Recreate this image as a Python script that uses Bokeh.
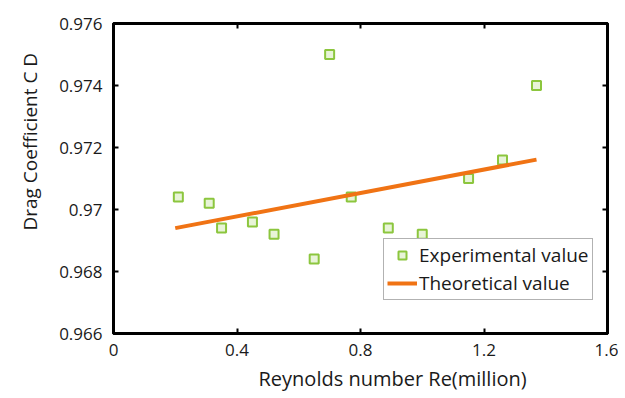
from bokeh.plotting import figure
from bokeh.models import LinearAxis, FixedTicker, Range1d, Legend, LegendItem, Title
from bokeh.embed import file_html
from bokeh.resources import INLINE

# data
re_exp = [0.21, 0.31, 0.35, 0.45, 0.52, 0.65, 0.70, 0.77, 0.89, 1.00, 1.15, 1.26, 1.37]
cd_exp = [0.9704, 0.9702, 0.9694, 0.9696, 0.9692, 0.9684, 0.9750, 0.9704, 0.9694, 0.9692, 0.9710, 0.9716, 0.9740]
re_theory = [0.20, 1.37]
cd_theory = [0.96940, 0.97161]
x_ticks = [0, 0.4, 0.8, 1.2, 1.6]
x_tick_labels = ["0", "0.4", "0.8", "1.2", "1.6"]
y_ticks = [0.966, 0.968, 0.970, 0.972, 0.974, 0.976]
y_tick_labels = ["0.966", "0.968", "0.97", "0.972", "0.974", "0.976"]
x_title = "Reynolds number Re(million)"
y_title = "Drag Coefficient C D"

FONT = "Open Sans"
GREEN = "#8cc63e"
ORANGE = "#f07314"
TXT = "#1a1a1a"

p = figure(width=618, height=398, output_backend="svg", toolbar_location=None,
           x_range=Range1d(0, 1.6), y_range=Range1d(0.966, 0.976),
           min_border_left=113, min_border_right=11, min_border_top=23, min_border_bottom=65)
p.grid.visible = False
p.outline_line_color = "black"
p.outline_line_width = 3
p.background_fill_color = "white"
p.border_fill_color = "white"

def style(ax):
    ax.axis_line_width = 3
    ax.axis_line_color = "black"
    ax.major_tick_in = 5
    ax.major_tick_out = 0
    ax.major_tick_line_width = 2
    ax.minor_tick_line_color = None
    ax.major_label_text_font = FONT
    ax.major_label_text_font_size = "17px"
    ax.major_label_text_color = TXT

p.xaxis.ticker = FixedTicker(ticks=x_ticks)
p.xaxis.major_label_overrides = {t: l for t, l in zip(x_ticks, x_tick_labels)}
p.yaxis.ticker = FixedTicker(ticks=y_ticks)
p.yaxis.major_label_overrides = {t: l for t, l in zip(y_ticks, y_tick_labels)}
style(p.xaxis[0])
style(p.yaxis[0])
p.xaxis.major_label_standoff = 10
p.yaxis.major_label_standoff = 11

xt = Title(text=x_title, align="left", offset=145, text_font=FONT,
           text_font_size="20px", text_font_style="normal", text_color=TXT, standoff=8)
p.add_layout(xt, "below")
yt = Title(text=y_title, align="left", offset=103, text_font=FONT,
           text_font_size="19px", text_font_style="normal", text_color=TXT, standoff=28)
p.add_layout(yt, "left")

top = LinearAxis(ticker=FixedTicker(ticks=x_ticks),
                 major_label_overrides={t: "" for t in x_ticks})
style(top)
top.major_label_standoff = 0
p.add_layout(top, "above")
right = LinearAxis(ticker=FixedTicker(ticks=y_ticks),
                   major_label_overrides={t: "" for t in y_ticks})
style(right)
right.major_label_standoff = 0
p.add_layout(right, "right")

r_exp = p.scatter(re_exp, cd_exp, marker="square", size=9, line_color=GREEN,
                  line_width=2, fill_color="#e8f4d8")
r_th = p.line(re_theory, cd_theory, line_color=ORANGE, line_width=4)

legend = Legend(items=[LegendItem(label="Experimental value", renderers=[r_exp]),
                       LegendItem(label="Theoretical value", renderers=[r_th])],
                location=(270, 33))
legend.label_text_font = FONT
legend.label_text_font_size = "19px"
legend.label_text_color = TXT
legend.glyph_width = 30
legend.glyph_height = 20
legend.label_height = 20
legend.label_standoff = 2
legend.padding = 3
legend.spacing = 2
legend.margin = 0
legend.border_line_color = "#666666"
legend.border_line_width = 1
legend.background_fill_alpha = 1
p.add_layout(legend, "center")

open("out.html", "w").write(file_html(p, INLINE))
